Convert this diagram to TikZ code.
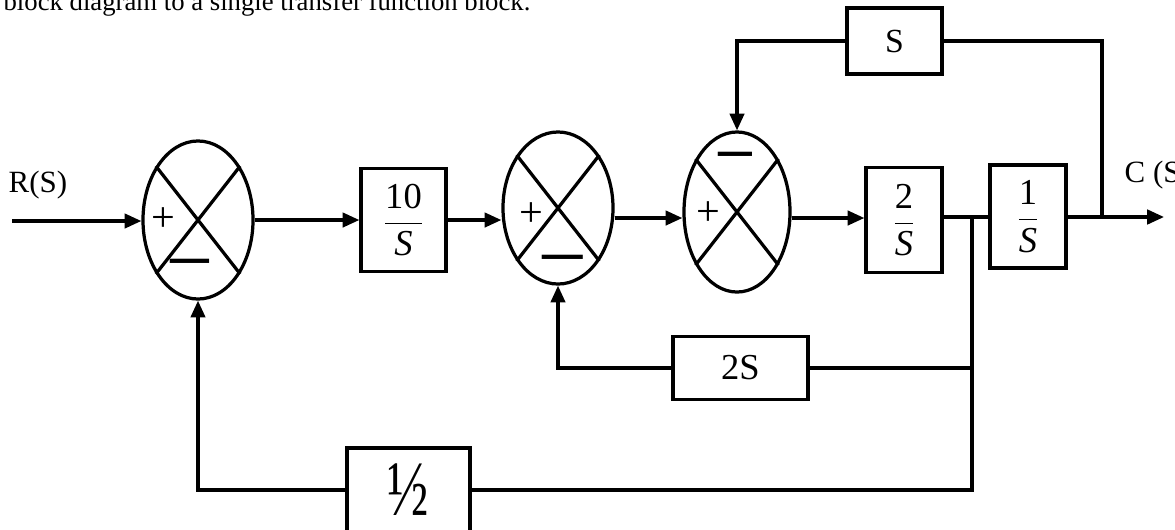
\documentclass[tikz,border=0pt]{standalone}
\usepackage{fontspec}
\usepackage{graphicx}
\setmainfont{Liberation Serif}
\usetikzlibrary{arrows.meta,calc,shapes.geometric}
\begin{document}
\begin{tikzpicture}[x=0.025cm,y=-0.025cm,
  line width=2.3pt,
  sumj/.style={draw, ellipse, inner sep=0pt},
  blk/.style={draw, rectangle, inner sep=0pt, font=\fontsize{26pt}{30pt}\selectfont},
  lbl/.style={font=\fontsize{22pt}{26pt}\selectfont, inner sep=0pt},
  sgn/.style={font=\fontsize{30pt}{34pt}\selectfont, inner sep=0pt},
  mns/.style={font=\fontsize{24pt}{28pt}\selectfont\bfseries, inner sep=0pt},
  arr/.style={-{Triangle[length=0.42cm,width=0.36cm]}},
]
\useasboundingbox (0,0) rectangle (1175,529);
\clip (0,0) rectangle (1175,529);

% summing junctions
\node[sumj, minimum width=2.75cm, minimum height=3.95cm] (s1) at (198,220) {};
\node[sumj, minimum width=2.75cm, minimum height=3.8cm] (s2) at (558,208) {};
\node[sumj, minimum width=2.65cm, minimum height=4.0cm] (s3) at (737,212) {};
\foreach \s in {s1,s2,s3}{
  \draw (\s.128) -- (\s.308);
  \draw (\s.52) -- (\s.232);
}

% blocks
\node[blk, minimum width=2.125cm, minimum height=2.575cm] (b1) at (403.5,220) {$\displaystyle\frac{\mbox{10}}{\mbox{\itshape S}}$};
\node[blk, minimum width=1.9cm, minimum height=2.625cm] (b2) at (904,220) {$\displaystyle\frac{\mbox{2}}{\mbox{\itshape S}}$};
\node[blk, minimum width=1.9cm, minimum height=2.575cm] (b3) at (1028,216.5) {$\displaystyle\frac{\mbox{1}}{\mbox{\itshape S}}$};
\node[blk, minimum width=2.375cm, minimum height=1.65cm, font=\fontsize{24pt}{28pt}\selectfont] (bS) at (894.5,41) {S};
\node[blk, minimum width=3.375cm, minimum height=1.575cm] (b2S) at (740.5,368) {2S};
\node[blk, minimum width=3.075cm, minimum height=2.1cm, font=\fontsize{56pt}{60pt}\selectfont] (bh) at (408.5,490) {\scalebox{0.7}[1]{½}};

% signs
\node[sgn] (p1) at (163,220) {+};
\node[mns] (n1) at (190,267) {\scalebox{1.15}[1.8]{—}};
\node[sgn] (p2) at (531,215) {+};
\node[mns] (n2) at (563,263) {\scalebox{1.2}[1.8]{—}};
\node[sgn] (p3) at (708,214) {+};
\node[mns] (n3) at (735,160) {\scalebox{1.0}[1.8]{—}};

% labels
\node[font=\fontsize{19pt}{23pt}\selectfont, inner sep=0pt, anchor=base west] (tt) at (2,10) {block diagram to a single transfer function block.};
\node[lbl, anchor=base west] (rl) at (7,192) {R(S)};
\node[lbl, anchor=base west] (cl) at (1123,182) {C (S)};

% coordinates
\coordinate (rin) at (12,221);
\coordinate (m2) at (0,218);
\coordinate (m3) at (0,217);
\coordinate (br) at (972,217);
\coordinate (jo) at (1102,217);
\coordinate (out) at (1164,217);

% connectors
\draw[arr] (rin) -- (rin -| s1.west);
\draw[arr] (s1.east) -- (s1.east -| b1.west);
\draw[arr] (b1.east) -- (b1.east -| s2.west);
\draw[arr] (s2.east |- m2) -- (s3.west |- m2);
\draw[arr] (s3.east |- m2) -- (b2.west |- m2);
\draw (b2.east |- m3) -- (b3.west |- m3);
\draw[arr] (b3.east |- m3) -- (out);
\draw (jo) |- (bS.east);
\draw[arr] (bS.west) -| (s3.north);
\draw (br) |- (bh.east);
\draw (b2S.east) -- (b2S.east -| br);
\draw[arr] (b2S.west) -| (s2.south);
\draw[arr] (bh.west) -| (s1.south);
\end{tikzpicture}
\end{document}
